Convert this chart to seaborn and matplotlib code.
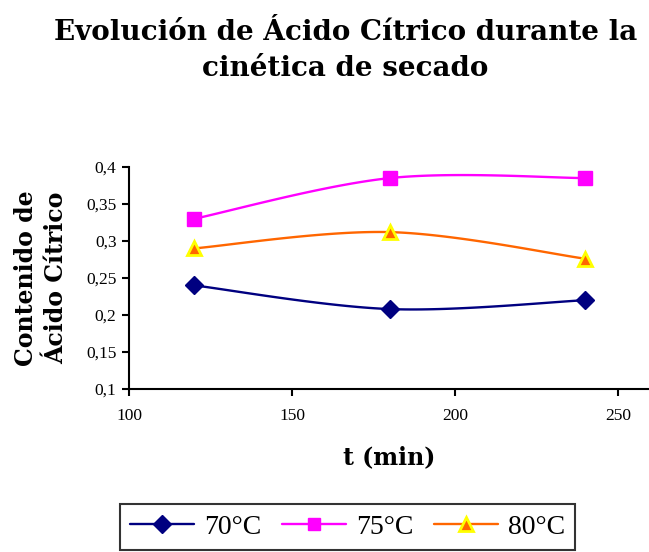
import numpy as np
import pandas as pd
import matplotlib
matplotlib.use("Agg")
import matplotlib.pyplot as plt
from matplotlib.lines import Line2D
from matplotlib.ticker import FuncFormatter
import seaborn as sns

# Drying times (min) and citric acid content per temperature
tiempo = [120, 180, 240]
acido_70 = [0.24, 0.208, 0.22]
acido_75 = [0.33, 0.385, 0.385]
acido_80 = [0.29, 0.312, 0.276]
series_labels = ["70°C", "75°C", "80°C"]

x_ticks = [100, 150, 200, 250]
y_ticks = [0.1, 0.15, 0.2, 0.25, 0.3, 0.35, 0.4]

colors = {"70°C": "#000080", "75°C": "#FF00FF", "80°C": "#FF6600"}
markers = {"70°C": "D", "75°C": "s", "80°C": "^"}


def smooth_curve(xs, ys, n=40, tension=6.0):
    """Cubic Bezier smoothing through every point (spreadsheet-style)."""
    pts = np.column_stack([xs, ys]).astype(float)
    ext = np.vstack([pts[0], pts, pts[-1]])
    out = []
    t = np.linspace(0, 1, n)[:, None]
    for i in range(1, len(ext) - 2):
        p0, p1, p2, p3 = ext[i - 1], ext[i], ext[i + 1], ext[i + 2]
        c1 = p1 + (p2 - p0) / tension
        c2 = p2 - (p3 - p1) / tension
        seg = ((1 - t) ** 3) * p1 + 3 * ((1 - t) ** 2) * t * c1 \
            + 3 * (1 - t) * t ** 2 * c2 + t ** 3 * p2
        out.append(seg if i == 1 else seg[1:])
    return np.vstack(out)


points = pd.DataFrame({
    "t": tiempo * 3,
    "acido": acido_70 + acido_75 + acido_80,
    "serie": [s for s in series_labels for _ in tiempo],
})

curves = []
for lab, ys in zip(series_labels, [acido_70, acido_75, acido_80]):
    c = smooth_curve(tiempo, ys)
    curves.append(pd.DataFrame({"t": c[:, 0], "acido": c[:, 1], "serie": lab}))
curves = pd.concat(curves, ignore_index=True)

sns.set_style("white")
plt.rcParams["font.family"] = ["Liberation Serif", "DejaVu Serif"]
plt.rcParams["text.color"] = "black"
plt.rcParams["axes.labelcolor"] = "black"
plt.rcParams["xtick.color"] = "black"
plt.rcParams["ytick.color"] = "black"

fig = plt.figure(figsize=(6.49, 5.52), dpi=100)
ax = fig.add_axes([0.1988, 0.2953, 0.8012, 0.4022])

sns.lineplot(data=curves, x="t", y="acido", hue="serie", palette=colors,
             sort=False, estimator=None, linewidth=1.7, legend=False, ax=ax)

for lab in series_labels:
    sub = points[points["serie"] == lab]
    if lab == "80°C":
        ax.plot(sub["t"], sub["acido"], linestyle="none", marker="^",
                markersize=10, markerfacecolor=colors[lab],
                markeredgecolor="#FFFF00", markeredgewidth=2.0, zorder=4)
    else:
        ax.plot(sub["t"], sub["acido"], linestyle="none", marker=markers[lab],
                markersize=9 if lab == "70°C" else 9.5,
                markerfacecolor=colors[lab], markeredgecolor=colors[lab],
                zorder=4)

ax.set_xlim(100, 259.5)
ax.set_ylim(0.1, 0.4)
ax.set_xticks(x_ticks)
ax.set_yticks(y_ticks)
ax.yaxis.set_major_formatter(FuncFormatter(lambda v, p: f"{v:g}".replace(".", ",")))
ax.tick_params(axis="both", direction="out", length=5, width=1.5,
               labelsize=12.5, color="black", labelcolor="black",
               left=True, bottom=True)
ax.tick_params(axis="x", pad=9)
ax.tick_params(axis="y", pad=4)

for side in ["top", "right"]:
    ax.spines[side].set_visible(False)
for side in ["left", "bottom"]:
    ax.spines[side].set_color("black")
    ax.spines[side].set_linewidth(1.5)

ax.set_xlabel("t (min)", fontsize=17, fontweight="bold",
              family=["DejaVu Serif"], labelpad=15)
ax.set_ylabel("Contenido de\nÁcido Cítrico", fontsize=17, fontweight="bold",
              family=["DejaVu Serif"], labelpad=13, linespacing=1.3)

fig.suptitle("Evolución de Ácido Cítrico durante la\ncinética de secado",
             x=0.532, y=0.965, fontsize=20, fontweight="bold",
             family=["DejaVu Serif"], linespacing=1.4)

handles = []
for lab in series_labels:
    if lab == "80°C":
        h = Line2D([], [], color=colors[lab], linewidth=1.7, marker="^",
                   markersize=10, markerfacecolor=colors[lab],
                   markeredgecolor="#FFFF00", markeredgewidth=2.0)
    else:
        h = Line2D([], [], color=colors[lab], linewidth=1.7, marker=markers[lab],
                   markersize=9, markerfacecolor=colors[lab],
                   markeredgecolor=colors[lab])
    handles.append(h)

leg = fig.legend(handles, series_labels, loc="center", ncol=3,
                 bbox_to_anchor=(0.5355, 0.0453), frameon=True, fancybox=False,
                 fontsize=20, handlelength=2.3, handletextpad=0.35,
                 columnspacing=0.75, borderpad=0.38)
leg.get_frame().set_edgecolor("black")
leg.get_frame().set_linewidth(1.5)

fig.savefig("out.png", dpi=100, facecolor="white")
